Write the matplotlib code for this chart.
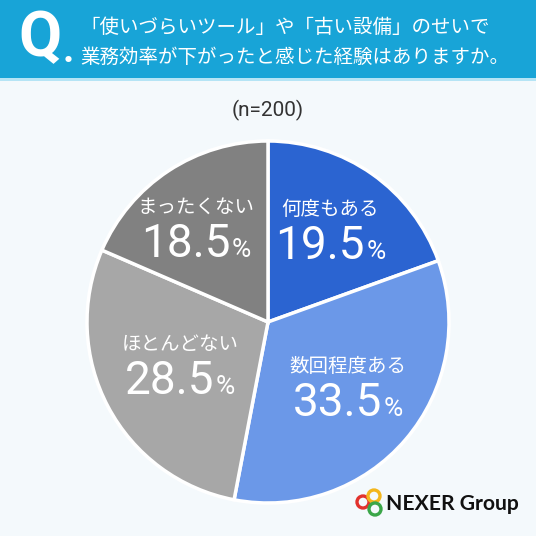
import matplotlib
matplotlib.use("Agg")
import matplotlib.pyplot as plt
import numpy as np
from matplotlib.patches import Rectangle, Circle
from matplotlib.offsetbox import TextArea, HPacker, VPacker, AnnotationBbox

plt.rcParams['font.family'] = ['Noto Sans CJK JP', 'DejaVu Sans']

# data
labels = ["何度もある", "数回程度ある", "ほとんどない", "まったくない"]
values = [19.5, 33.5, 28.5, 18.5]
colors = ["#2b64d1", "#6b98e8", "#a7a7a7", "#818181"]
title_lines = ["「使いづらいツール」や「古い設備」のせいで",
               "業務効率が下がったと感じた経験はありますか。"]
n_text = "(n=200)"

W = H = 536
fig = plt.figure(figsize=(5.36, 5.36), dpi=100)
fig.patch.set_facecolor("#f4f9fc")

# overlay axes in pixel coords (y down)
bg = fig.add_axes([0, 0, 1, 1])
bg.set_xlim(0, W)
bg.set_ylim(H, 0)
bg.axis("off")
bg.add_patch(Rectangle((0, 0), W, 78, color="#18a4d7", lw=0))
bg.add_patch(Rectangle((0, 78), W, 3, color="#b5e4f5", lw=0))
bg.text(18, 39, "Q", color="white", fontsize=45, fontweight="bold",
        family="Roboto", va="center", ha="left")
bg.text(63, 62, ".", color="white", fontsize=28, fontweight="bold",
        family="Roboto", va="baseline", ha="left")
bg.text(80, 27, title_lines[0], color="white", fontsize=14, va="center")
bg.text(80, 57, title_lines[1], color="white", fontsize=14, va="center")
bg.text(268, 110, n_text, color="#333333", fontsize=15, ha="center",
        va="center", family=["Roboto", "DejaVu Sans"])

# logo
for cx, cy, c in [(363, 502, "#e2322d"), (374, 496, "#f3b61c"), (375, 509, "#3aa648")]:
    bg.add_patch(Circle((cx, cy), 6, fill=False, ec=c, lw=2.4))
bg.text(386, 504, "NEXER Group", color="#111111", fontsize=15.2,
        fontweight="bold", family=["Lato", "DejaVu Sans"], va="center")

# pie
cx, cy, r = 268, 322, 181
ax = fig.add_axes([(cx - r) / W, (H - cy - r) / H, 2 * r / W, 2 * r / H])
wedges, _ = ax.pie(values, colors=colors, startangle=90, counterclock=False,
                   radius=1, wedgeprops=dict(edgecolor="white", linewidth=2.5))
ax.set_xlim(-1, 1)
ax.set_ylim(-1, 1)
ax.set_aspect("equal")
ax.axis("off")

# label radius / small angle nudge per wedge
rad = [0.6, 0.58, 0.55, 0.64]
nudge = [0, 0, 0, 5]
for w, lab, v, rr, dn in zip(wedges, labels, values, rad, nudge):
    mid = np.deg2rad((w.theta1 + w.theta2) / 2 + dn)
    x, y = rr * np.cos(mid), rr * np.sin(mid)
    t_lab = TextArea(lab, textprops=dict(color="white", fontsize=14))
    t_num = TextArea(f"{v:.1f}", textprops=dict(color="white", fontsize=33,
                                                family=["Roboto", "DejaVu Sans"]))
    t_pct = TextArea("%", textprops=dict(color="white", fontsize=19,
                                         family=["Roboto", "DejaVu Sans"]))
    row = HPacker(children=[t_num, t_pct], align="baseline", pad=0, sep=1)
    box = VPacker(children=[t_lab, row], align="center", pad=0, sep=3)
    ab = AnnotationBbox(box, (x, y), frameon=False, box_alignment=(0.5, 0.5))
    ax.add_artist(ab)

fig.savefig("out.png", dpi=100, facecolor=fig.get_facecolor())
